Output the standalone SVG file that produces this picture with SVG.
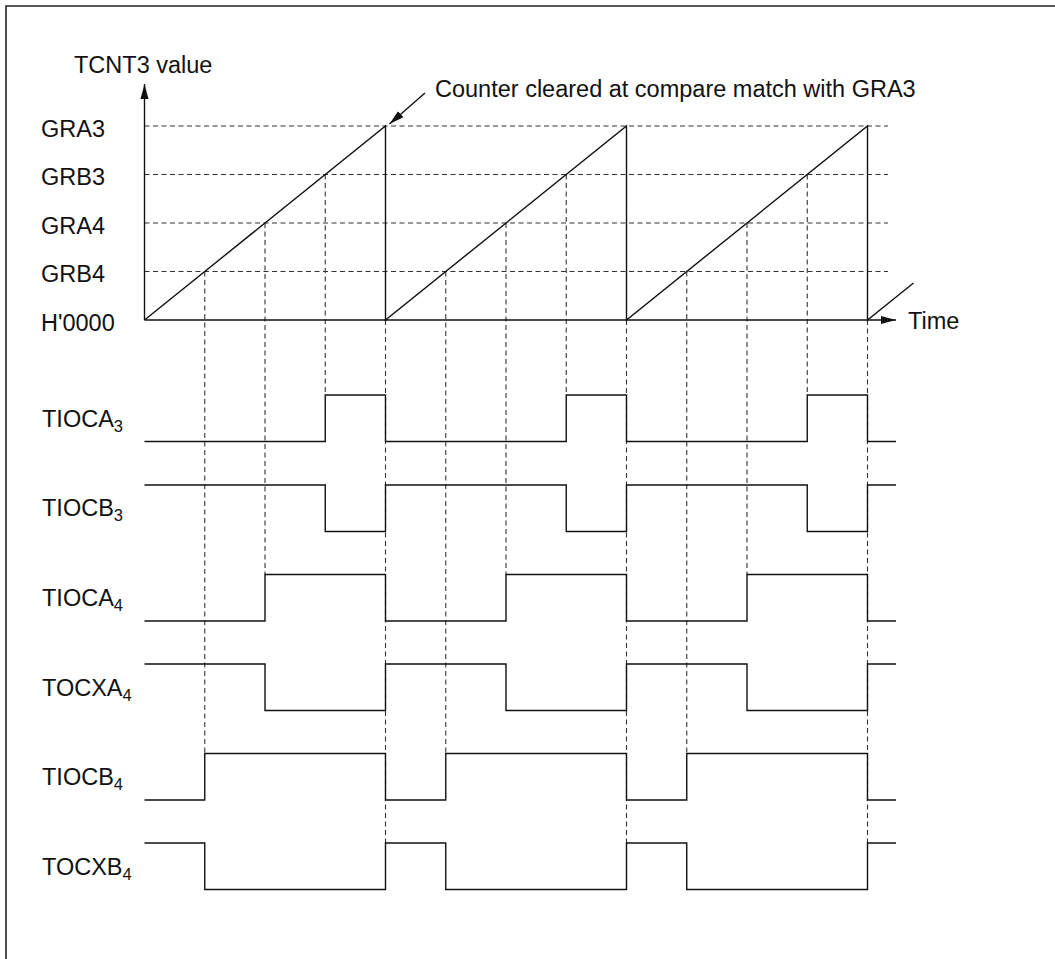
<svg xmlns="http://www.w3.org/2000/svg" width="1055" height="959" viewBox="0 0 1055 959">
<style>
.t{font-family:"Liberation Sans",Arial,sans-serif;font-size:23.5px;fill:#111}
.s{font-size:16.5px}
.ln{fill:none;stroke:#111;stroke-width:1.4}
.dash{fill:none;stroke:#333;stroke-width:1.1;stroke-dasharray:5 3.5}
.frame{fill:none;stroke:#222;stroke-width:1.6}
</style>
<defs>
<marker id="ah" markerUnits="userSpaceOnUse" markerWidth="16" markerHeight="9" refX="15" refY="4.5" orient="auto">
<path d="M0,0.5 L15,4.5 L0,8.5 z" fill="#111"/>
</marker>
</defs>
<rect width="1055" height="959" fill="#fff"/>
<path class="frame" d="M6,959 V6 H1055"/>

<g id="grid">
<path class="dash" d="M144.5,126 H888 M144.5,174.5 H888 M144.5,223 H888 M144.5,271.5 H888"/>
<path class="dash" d="M204.75,271.5 V753.5 M445.75,271.5 V753.5 M686.75,271.5 V753.5"/>
<path class="dash" d="M265,223 V574.5 M506,223 V574.5 M747,223 V574.5"/>
<path class="dash" d="M325.25,174.5 V395 M566.25,174.5 V395 M807.25,174.5 V395"/>
<path class="dash" d="M385.5,320 V843 M626.5,320 V843 M867.5,320 V843"/>
</g>

<g id="connectors">
<path class="ln" d="M144.5,320 V84" marker-end="url(#ah)"/>
<path class="ln" d="M144.5,320 H896" marker-end="url(#ah)"/>
<path class="ln" d="M425,93 L389.5,124" marker-end="url(#ah)"/>
</g>

<g id="ramp">
<path class="ln" d="M144.5,320 L385.5,126 V320 L626.5,126 V320 L867.5,126 V320 L913.5,283"/>
</g>

<g id="axis-labels">
<text class="t" x="74" y="72.5">TCNT3 value</text>
<text class="t" x="41" y="136.5">GRA3</text>
<text class="t" x="41" y="185">GRB3</text>
<text class="t" x="41" y="233.5">GRA4</text>
<text class="t" x="41" y="282">GRB4</text>
<text class="t" x="41" y="330.5">H'0000</text>
<text class="t" x="908" y="328.5">Time</text>
<text class="t" x="435" y="96.5">Counter cleared at compare match with GRA3</text>
</g>

<g id="sig-TIOCA3">
<text class="t" x="42" y="426.5">TIOCA<tspan class="s" dy="5">3</tspan></text>
<path class="ln" d="M144.5,441.5 H325.25 V395 H385.5 V441.5 H566.25 V395 H626.5 V441.5 H807.25 V395 H867.5 V441.5 H896"/>
</g>
<g id="sig-TIOCB3">
<text class="t" x="42" y="516">TIOCB<tspan class="s" dy="5">3</tspan></text>
<path class="ln" d="M144.5,485 H325.25 V531.5 H385.5 V485 H566.25 V531.5 H626.5 V485 H807.25 V531.5 H867.5 V485 H896"/>
</g>
<g id="sig-TIOCA4">
<text class="t" x="42" y="606">TIOCA<tspan class="s" dy="5">4</tspan></text>
<path class="ln" d="M144.5,621 H265 V574.5 H385.5 V621 H506 V574.5 H626.5 V621 H747 V574.5 H867.5 V621 H896"/>
</g>
<g id="sig-TOCXA4">
<text class="t" x="42" y="695.5">TOCXA<tspan class="s" dy="5">4</tspan></text>
<path class="ln" d="M144.5,664 H265 V710.5 H385.5 V664 H506 V710.5 H626.5 V664 H747 V710.5 H867.5 V664 H896"/>
</g>
<g id="sig-TIOCB4">
<text class="t" x="42" y="785">TIOCB<tspan class="s" dy="5">4</tspan></text>
<path class="ln" d="M144.5,800 H204.75 V753.5 H385.5 V800 H445.75 V753.5 H626.5 V800 H686.75 V753.5 H867.5 V800 H896"/>
</g>
<g id="sig-TOCXB4">
<text class="t" x="42" y="874.5">TOCXB<tspan class="s" dy="5">4</tspan></text>
<path class="ln" d="M144.5,843 H204.75 V889.5 H385.5 V843 H445.75 V889.5 H626.5 V843 H686.75 V889.5 H867.5 V843 H896"/>
</g>
</svg>
